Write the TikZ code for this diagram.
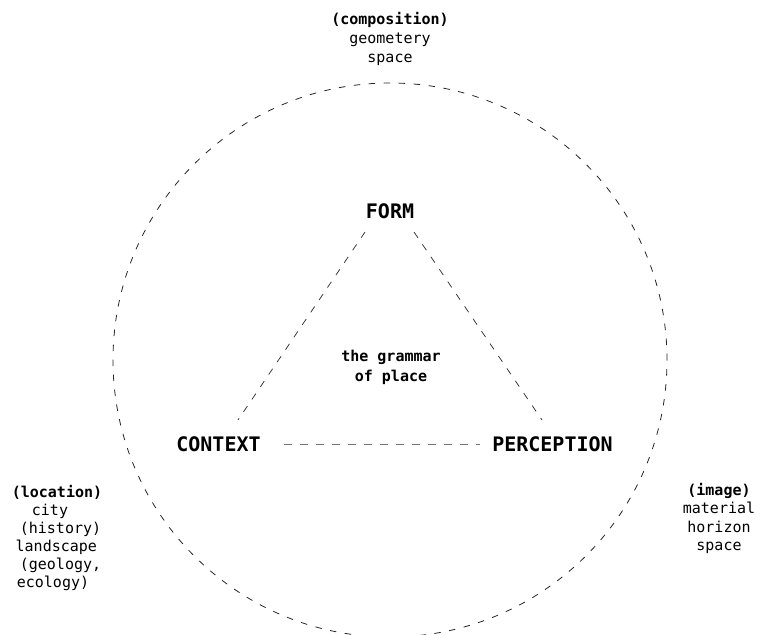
\documentclass[tikz,border=0pt]{standalone}
\usepackage{fontspec}
\setmonofont{DejaVu Sans Mono}
\begin{document}
\begin{tikzpicture}[x=1pt,y=-1pt,
  small/.style={font=\ttfamily\fontsize{15}{18}\selectfont, inner sep=0pt, text height=11pt, text depth=3pt},
  smallb/.style={small, font=\ttfamily\bfseries\fontsize{15}{18}\selectfont},
  big/.style={font=\ttfamily\bfseries\fontsize{20}{24}\selectfont, inner sep=0pt},
  ring/.style={draw=black!85, line width=0.8pt, dash pattern=on 6.5pt off 8.5pt},
  edge/.style={draw=black!80, line width=0.75pt, dash pattern=on 7pt off 8pt},
  base/.style={draw=black!55, line width=1pt, dash pattern=on 8pt off 8pt}]
\useasboundingbox (0,0) rectangle (764,635);
\fill[white] (0,0) rectangle (764,635);

% outer dashed circle
\node[circle, minimum size=554pt, inner sep=0pt, ring] (ring) at (390,360) {};

% main nodes
\node[big] (form) at (390,211) {FORM};
\node[big] (context) at (218.5,444) {CONTEXT};
\node[big] (perception) at (552.5,444) {PERCEPTION};

% centre label
\node[smallb] (g1) at (391,357) {the grammar};
\node[smallb] (g2) at (391,377) {of place};

% connectors
\coordinate (fl) at (365,232);
\coordinate (fr) at (414,232);
\coordinate (cl) at (238,420);
\coordinate (pr) at (542,420);
\coordinate (ch) at (284,444);
\coordinate (ph) at (480,444);
\draw[edge] (fl) -- (cl);
\draw[edge] (fr) -- (pr);
\draw[base] (ch) -- (ph);

% top block
\node[smallb] (t1) at (390,20) {(composition)};
\node[small] (t2) at (390,39) {geometery};
\node[small] (t3) at (390,58) {space};

% left block
\node[smallb] (l1) at (57,493) {(location)};
\node[small] (l2) at (50,511) {city};
\node[small] (l3) at (60.5,529) {(history)};
\node[small] (l4) at (56.3,547) {landscape};
\node[small] (l5) at (60.5,565) {(geology,};
\node[small] (l6) at (53,583) {ecology)};

% right block
\node[smallb] (r1) at (719,491) {(image)};
\node[small] (r2) at (719,509.5) {material};
\node[small] (r3) at (719,528) {horizon};
\node[small] (r4) at (719,546.5) {space};
\end{tikzpicture}
\end{document}
